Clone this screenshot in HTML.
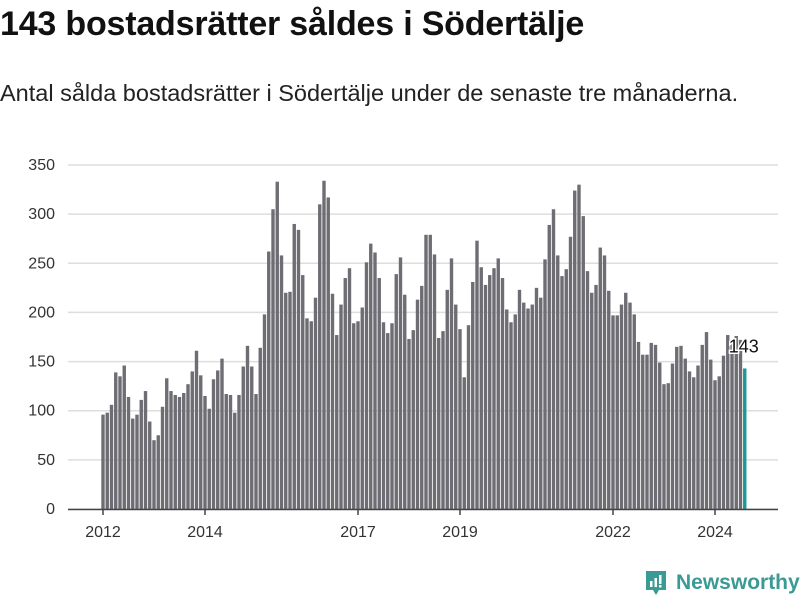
<!DOCTYPE html>
<html><head><meta charset="utf-8"><style>
body{margin:0;width:800px;height:600px;background:#fff;font-family:"Liberation Sans",sans-serif;overflow:hidden;position:relative}
h1{position:absolute;left:0;top:5px;margin:0;font-size:34px;font-weight:bold;color:#111;letter-spacing:-0.2px}
.sub{position:absolute;left:0;top:80px;font-size:23.5px;color:#222}
svg{position:absolute;left:0;top:0}
</style></head><body>
<h1>143 bostadsrätter såldes i Södertälje</h1>
<div class="sub">Antal sålda bostadsrätter i Södertälje under de senaste tre månaderna.</div>
<svg id="c" width="800" height="600"></svg>
<script>
const values=[96,98,106,139,135,146,114,92,96,111,120,89,70,75,104,133,120,116,114,118,127,140,161,136,115,102,132,141,153,117,116,98,116,145,166,145,117,164,198,262,305,333,258,220,221,290,284,238,194,191,215,310,334,317,219,177,208,235,245,189,191,205,251,270,261,235,190,179,189,239,256,218,173,182,213,227,279,279,259,174,181,223,255,208,183,134,187,231,273,246,228,238,245,255,235,203,190,198,223,210,204,208,225,215,254,289,305,258,237,244,277,324,330,298,242,220,228,266,258,222,197,197,208,220,210,198,170,157,157,169,167,149,127,128,148,165,166,153,140,134,146,167,180,152,131,135,156,177,172,176,172,143];
const yTicks=[0,50,100,150,200,250,300,350];
const xTickLabels=["2012","2014","2017","2019","2022","2024"];
const xTickMonths=[0,24,60,84,120,144];
const svg=document.getElementById('c');const NS='http://www.w3.org/2000/svg';
const y=v=>509-v*(344/350);
const x=i=>103+i*4.25;
function mk(t,a){const e=document.createElementNS(NS,t);for(const k in a)e.setAttribute(k,a[k]);svg.appendChild(e);return e;}
yTicks.forEach(t=>{
  const l=mk('line',{x1:68,x2:778,y1:y(t),y2:y(t),stroke:'#dedede','stroke-width':1.5});
  
  
  const tx=mk('text',{x:55,y:y(t)+5,'text-anchor':'end','font-size':16,fill:'#333'});
  tx.textContent=t;
  
  
});
values.forEach((v,i)=>{
  const last=i===values.length-1;
  const r=mk('rect',{x:x(i)-1.7,y:y(v),width:3.4,height:509-y(v),fill:last?'#1a9a96':'#6e6d73'});
  
  
});
const ax=mk('line',{x1:68,x2:778,y1:509.5,y2:509.5,stroke:'#444','stroke-width':1.5});


xTickMonths.forEach((m,k)=>{
  const t=mk('line',{x1:x(m),x2:x(m),y1:509,y2:515,stroke:'#444','stroke-width':1.5});
  
  
  const tx=mk('text',{x:x(m),y:537,'text-anchor':'middle','font-size':16,fill:'#333'});
  tx.textContent=xTickLabels[k];
  
  
});
const li=values.length-1;
const lab=mk('text',{x:x(li)-16,y:y(values[li])-16,'text-anchor':'start','font-size':18,fill:'#111',stroke:'#fff','stroke-width':3,'paint-order':'stroke'});
lab.textContent=values[li];


</script>
<div style="position:absolute;left:645px;top:570px;display:flex;align-items:center">
<svg width="22" height="26" viewBox="0 0 22 26" style="position:static"><path d="M1 1h20v19h-7l-3 5-3-5H1z" fill="#3a9a94"/><rect x="5" y="11" width="2.5" height="6" fill="#fff"/><rect x="9.5" y="8" width="2.5" height="9" fill="#fff"/><rect x="14" y="5" width="2.5" height="9" fill="#fff"/><rect x="14" y="15" width="2.5" height="2.5" fill="#fff"/></svg>
<span style="margin-left:9px;font-size:21px;color:#3a9a94;font-weight:bold">Newsworthy</span></div>
</body></html>
